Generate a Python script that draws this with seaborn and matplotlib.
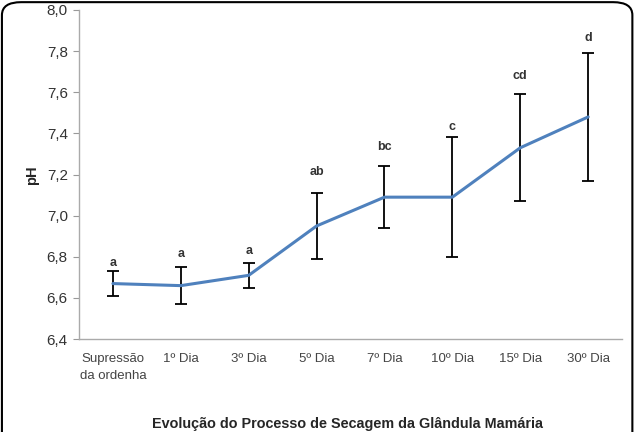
import matplotlib
matplotlib.use("Agg")
import matplotlib.pyplot as plt
from matplotlib.patches import FancyBboxPatch
import seaborn as sns
import pandas as pd

categories = ["Supressão\nda ordenha", "1º Dia", "3º Dia", "5º Dia", "7º Dia", "10º Dia", "15º Dia", "30º Dia"]
ph_mean = [6.67, 6.66, 6.71, 6.95, 7.09, 7.09, 7.33, 7.48]
ph_err = [0.06, 0.09, 0.06, 0.16, 0.15, 0.29, 0.26, 0.31]
letters = ["a", "a", "a", "ab", "bc", "c", "cd", "d"]
yticks = [6.4, 6.6, 6.8, 7.0, 7.2, 7.4, 7.6, 7.8, 8.0]

sns.set_theme(style="white")
plt.rcParams['font.family'] = ['Liberation Sans', 'DejaVu Sans']

df = pd.DataFrame({"pos": range(len(categories)), "ph": ph_mean, "err": ph_err})

fig = plt.figure(figsize=(6.42, 4.32), dpi=100)
ax = fig.add_axes([0.123, 0.215, 0.846, 0.762])

ax.errorbar(df["pos"], df["ph"], yerr=df["err"], fmt="none", ecolor="black",
            elinewidth=1.3, capsize=4, capthick=1.3, zorder=2)
sns.lineplot(data=df, x="pos", y="ph", ax=ax, color="#4F81BD", linewidth=2.2, zorder=3)

# label offsets above the error-bar tops (points)
label_offsets = [5.8, 9.4, 8.6, 15.1, 13.7, 7.2, 13.0, 10.8]
for i, (m, e, l) in enumerate(zip(ph_mean, ph_err, letters)):
    ax.annotate(l, (i, m + e), xytext=(0, label_offsets[i]), textcoords="offset points",
                ha="center", va="center", fontsize=9, fontweight="bold", color="#333333")

ax.set_xlim(-0.5, len(categories) - 0.5)
ax.set_ylim(6.4, 8.0)
ax.set_yticks(yticks)
ax.set_yticklabels([f"{v:.1f}".replace(".", ",") for v in yticks], fontsize=11, color="#333333")
ax.set_xticks(range(len(categories)))
ax.set_xticklabels(categories, fontsize=9.5, color="#444444", linespacing=1.5)
ax.tick_params(axis="y", which="both", left=True, length=4, width=0.8, color="#999999", pad=4)
ax.tick_params(axis="x", bottom=False, pad=4)

for s in ["top", "right"]:
    ax.spines[s].set_visible(False)
for s in ["left", "bottom"]:
    ax.spines[s].set_color("#AAAAAA")
    ax.spines[s].set_linewidth(1.0)

ax.set_xlabel("")
ax.set_ylabel("")
fig.text(0.05, 0.595, "pH", rotation=90, ha="center", va="center", fontsize=10.5, fontweight="bold")
fig.text(0.542, 0.019, "Evolução do Processo de Secagem da Glândula Mamária", ha="center",
         va="center", fontsize=10.4, fontweight="bold")

frame = FancyBboxPatch((0.003, -0.05), 0.982, 1.045, boxstyle="round,pad=0,rounding_size=0.03",
                       transform=fig.transFigure, fill=False, edgecolor="black", linewidth=1.5)
fig.patches.append(frame)

fig.savefig("out.png", dpi=100)
